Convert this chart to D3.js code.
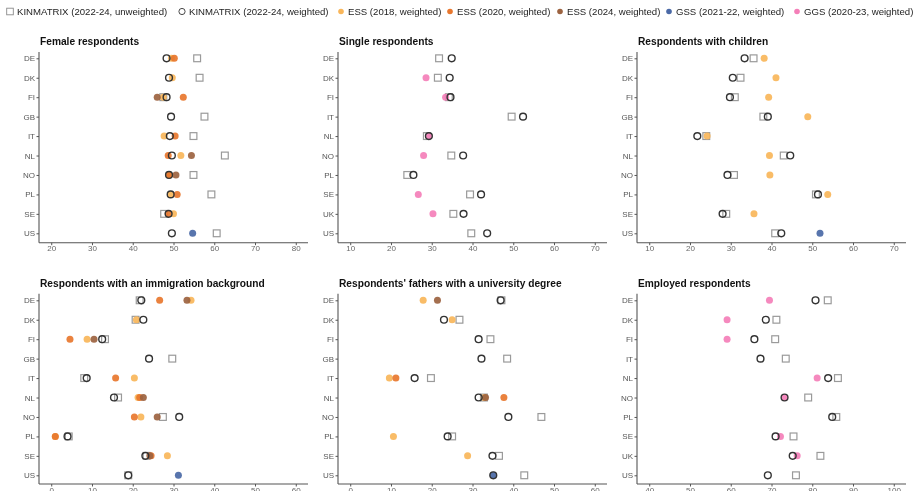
<!DOCTYPE html>
<html>
<head>
<meta charset="utf-8">
<script src="https://cdn.jsdelivr.net/npm/d3@7"></script>
<style>
  html, body { margin: 0; padding: 0; background: #fff; }
  svg { display: block; font-family: "Liberation Sans", Arial, sans-serif; will-change: transform; }
  svg text { -webkit-font-smoothing: antialiased; }
</style>
</head>
<body>
<svg id="chart" width="919" height="491"></svg>
<script>
// ---- Series ----
const seriesKeys = ["unweighted", "weighted", "ess2018", "ess2020", "ess2024", "gss", "ggs"];
const seriesLabels = [
  "KINMATRIX (2022-24, unweighted)",
  "KINMATRIX (2022-24, weighted)",
  "ESS (2018, weighted)",
  "ESS (2020, weighted)",
  "ESS (2024, weighted)",
  "GSS (2021-22, weighted)",
  "GGS (2020-23, weighted)"
];
const seriesColors = ["#9a9a9a", "#333333", "#f9b65a", "#e8772e", "#9c6340", "#4a69a6", "#f47fb8"];

// ---- Female respondents ----
const femaleCountries  = ["DE", "DK", "FI", "GB", "IT", "NL", "NO", "PL", "SE", "US"];
const femaleUnweighted = [55.8, 56.4, 47.5, 57.6, 54.9, 62.6, 54.9, 59.3, 47.7, 60.6];
const femaleWeighted   = [48.3, 48.9, 48.3, 49.4, 49.1, 49.6, 48.9, 49.3, 48.8, 49.6];
const femaleEss2018    = [49.5, 49.7, 47.5, null, 47.7, 51.8, 48.9, 49.3, 50.0, null];
const femaleEss2020    = [50.2, null, 52.4, null, 50.4, 48.7, 49.0, 50.9, 48.7, null];
const femaleEss2024    = [null, null, 46.0, null, null, 54.4, 50.6, null, null, null];
const femaleGss        = [null, null, null, null, null, null, null, null, null, 54.7];
const femaleTicks      = [20, 30, 40, 50, 60, 70, 80];

// ---- Single respondents ----
const singleCountries  = ["DE", "DK", "FI", "IT", "NL", "NO", "PL", "SE", "UK", "US"];
const singleUnweighted = [31.8, 31.5, 34.2, 49.6, 28.8, 34.8, 24.0, 39.4, 35.3, 39.7];
const singleWeighted   = [34.9, 34.4, 34.6, 52.4, 29.3, 37.7, 25.5, 42.1, 37.8, 43.6];
const singleGgs        = [null, 28.6, 33.4, null, 29.3, 28.0, null, 26.7, 30.3, null];
const singleTicks      = [10, 20, 30, 40, 50, 60, 70];

// ---- Respondents with children ----
const childCountries  = ["DE", "DK", "FI", "GB", "IT", "NL", "NO", "PL", "SE", "US"];
const childUnweighted = [35.6, 32.4, 31.0, 38.0, 24.0, 43.0, 30.8, 50.9, 28.9, 40.9];
const childWeighted   = [33.4, 30.5, 29.8, 39.1, 21.8, 44.6, 29.2, 51.4, 28.0, 42.4];
const childEss2018    = [38.2, 41.1, 39.3, 48.9, 24.2, 39.5, 39.6, 53.8, 35.7, null];
const childGss        = [null, null, null, null, null, null, null, null, null, 51.9];
const childTicks      = [10, 20, 30, 40, 50, 60, 70];

// ---- Respondents with an immigration background ----
const migCountries  = ["DE", "DK", "FI", "GB", "IT", "NL", "NO", "PL", "SE", "US"];
const migUnweighted = [21.7, 20.7, 13.2, 29.7, 8.1, 16.4, 27.4, 4.3, 23.4, 18.9];
const migWeighted   = [22.1, 22.6, 12.5, 24.0, 8.7, 15.4, 31.4, 4.0, 23.1, 18.9];
const migEss2018    = [34.3, 20.9, 8.8, null, 20.4, 21.3, 22.0, 1.0, 28.5, null];
const migEss2020    = [26.6, null, 4.6, null, 15.8, 21.7, 20.4, 1.0, 24.5, null];
const migEss2024    = [33.3, null, 10.5, null, null, 22.6, 26.0, null, 24.2, null];
const migGss        = [null, null, null, null, null, null, null, null, null, 31.2];
const migTicks      = [0, 10, 20, 30, 40, 50, 60];

// ---- Respondents' fathers with a university degree ----
const fatherCountries  = ["DE", "DK", "FI", "GB", "IT", "NL", "NO", "PL", "SE", "US"];
const fatherUnweighted = [37.1, 26.8, 34.4, 38.5, 19.8, 32.8, 46.9, 25.0, 36.5, 42.7];
const fatherWeighted   = [36.9, 23.0, 31.5, 32.2, 15.8, 31.5, 38.8, 23.9, 34.9, 35.1];
const fatherEss2018    = [17.9, 25.0, null, null, 9.6, 32.9, null, 10.6, 28.8, null];
const fatherEss2020    = [null, null, null, null, 11.2, 37.7, null, null, null, null];
const fatherEss2024    = [21.4, null, null, null, null, 33.2, null, null, null, null];
const fatherGss        = [null, null, null, null, null, null, null, null, null, 35.1];
const fatherTicks      = [0, 10, 20, 30, 40, 50, 60];

// ---- Employed respondents ----
const empCountries  = ["DE", "DK", "FI", "IT", "NL", "NO", "PL", "SE", "UK", "US"];
const empUnweighted = [83.8, 71.2, 70.9, 73.5, 86.3, 79.0, 85.9, 75.4, 82.0, 76.0];
const empWeighted   = [80.8, 68.6, 65.8, 67.3, 83.9, 73.2, 84.9, 71.0, 75.2, 69.1];
const empGgs        = [69.5, 59.1, 59.1, null, 81.2, 73.2, null, 72.2, 76.3, null];
const empTicks      = [40, 50, 60, 70, 80, 90, 100];

const panels = [
  { title: "Female respondents", countries: femaleCountries, ticks: femaleTicks,
    series: { unweighted: femaleUnweighted, weighted: femaleWeighted, ess2018: femaleEss2018,
              ess2020: femaleEss2020, ess2024: femaleEss2024, gss: femaleGss } },
  { title: "Single respondents", countries: singleCountries, ticks: singleTicks,
    series: { unweighted: singleUnweighted, weighted: singleWeighted, ggs: singleGgs } },
  { title: "Respondents with children", countries: childCountries, ticks: childTicks,
    series: { unweighted: childUnweighted, weighted: childWeighted, ess2018: childEss2018, gss: childGss } },
  { title: "Respondents with an immigration background", countries: migCountries, ticks: migTicks,
    series: { unweighted: migUnweighted, weighted: migWeighted, ess2018: migEss2018,
              ess2020: migEss2020, ess2024: migEss2024, gss: migGss } },
  { title: "Respondents' fathers with a university degree", countries: fatherCountries, ticks: fatherTicks,
    series: { unweighted: fatherUnweighted, weighted: fatherWeighted, ess2018: fatherEss2018,
              ess2020: fatherEss2020, ess2024: fatherEss2024, gss: fatherGss } },
  { title: "Employed respondents", countries: empCountries, ticks: empTicks,
    series: { unweighted: empUnweighted, weighted: empWeighted, ggs: empGgs } }
];

// ---- Layout ----
const colX = [39, 338, 637];
const panelW = 269;
const rows = [
  { axisTop: 52, axisBottom: 242.7, first: 58.3, last: 233.3, titleY: 45 },
  { axisTop: 293.7, axisBottom: 484, first: 300.3, last: 475.3, titleY: 286.5 }
];
const legendX = [10, 182, 341, 450, 560, 669, 797];

const svg = d3.select("#chart");
const color = d3.scaleOrdinal().domain(seriesKeys).range(seriesColors);

// ---- Legend ----
const legend = svg.append("g").attr("class", "legend");
seriesKeys.forEach((key, i) => {
  const g = legend.append("g");
  const lx = legendX[i];
  const cy = 11.5;
  if (key === "unweighted") {
    g.append("rect").attr("x", lx - 3.3).attr("y", cy - 3.3).attr("width", 6.6).attr("height", 6.6)
      .attr("fill", "none").attr("stroke", "#8a8a8a").attr("stroke-width", 0.9);
  } else if (key === "weighted") {
    g.append("circle").attr("cx", lx).attr("cy", cy).attr("r", 3.1)
      .attr("fill", "none").attr("stroke", "#333").attr("stroke-width", 0.9);
  } else {
    g.append("circle").attr("cx", lx).attr("cy", cy).attr("r", 2.8).attr("fill", color(key));
  }
  g.append("text").attr("x", lx + 7).attr("y", cy + 3.4)
    .attr("font-size", "9.6px").attr("fill", "#222").text(seriesLabels[i]);
});

// ---- Panels ----
const drawOrder = ["unweighted", "ess2018", "ess2020", "ess2024", "gss", "ggs", "weighted"];

panels.forEach((p, i) => {
  const row = rows[Math.floor(i / 3)];
  const x0 = colX[i % 3];
  const g = svg.append("g").attr("class", "panel");

  const x = d3.scaleLinear()
    .domain([p.ticks[0] - 3, p.ticks[p.ticks.length - 1] + 3])
    .range([x0, x0 + panelW]);
  const y = d3.scalePoint().domain(p.countries).range([row.first, row.last]);

  // title
  g.append("text").attr("x", x0 + 1).attr("y", row.titleY)
    .attr("font-size", "10.2px").attr("font-weight", "bold").attr("fill", "#111")
    .text(p.title);

  // axes
  const xAxis = d3.axisBottom(x).tickValues(p.ticks).tickSize(2.5).tickPadding(0.5).tickFormat(d3.format("d"));
  const gx = g.append("g").attr("transform", `translate(0,${row.axisBottom})`).call(xAxis);
  gx.select(".domain").remove();
  gx.selectAll(".tick line").attr("stroke", "#555");
  gx.selectAll(".tick text").attr("font-size", "8px").attr("fill", "#666").attr("fill-opacity", 0.99)
    .attr("font-family", "'Liberation Sans', Arial, sans-serif");

  const yAxis = d3.axisLeft(y).tickSize(2.5).tickPadding(1.5);
  const gy = g.append("g").attr("transform", `translate(${x0},0)`).call(yAxis);
  gy.select(".domain").remove();
  gy.selectAll(".tick line").attr("stroke", "#555");
  gy.selectAll(".tick text").attr("font-size", "8px").attr("fill", "#555").attr("fill-opacity", 0.99)
    .attr("font-family", "'Liberation Sans', Arial, sans-serif");

  g.append("line").attr("x1", x0).attr("x2", x0).attr("y1", row.axisTop).attr("y2", row.axisBottom)
    .attr("stroke", "#555").attr("stroke-width", 1.1);
  g.append("line").attr("x1", x0).attr("x2", x0 + panelW).attr("y1", row.axisBottom).attr("y2", row.axisBottom)
    .attr("stroke", "#555").attr("stroke-width", 1.1);

  // marks: squares first, survey dots next, weighted circles on top
  drawOrder.forEach(key => {
    const vals = p.series[key];
    if (!vals) return;
    const pts = p.countries.map((c, j) => ({ c, v: vals[j] })).filter(d => d.v != null);
    const mg = g.append("g").attr("class", "s-" + key);
    if (key === "unweighted") {
      mg.selectAll("rect").data(pts).join("rect")
        .attr("x", d => x(d.v) - 3.4).attr("y", d => y(d.c) - 3.4)
        .attr("width", 6.8).attr("height", 6.8)
        .attr("fill", "none").attr("stroke", "#9a9a9a").attr("stroke-width", 1.2);
    } else if (key === "weighted") {
      mg.selectAll("circle").data(pts).join("circle")
        .attr("cx", d => x(d.v)).attr("cy", d => y(d.c)).attr("r", 3.4)
        .attr("fill", "none").attr("stroke", "#333").attr("stroke-width", 1.4);
    } else {
      mg.selectAll("circle").data(pts).join("circle")
        .attr("cx", d => x(d.v)).attr("cy", d => y(d.c)).attr("r", 3.5)
        .attr("fill", color(key)).attr("fill-opacity", 0.92);
    }
  });
});
</script>
</body>
</html>
